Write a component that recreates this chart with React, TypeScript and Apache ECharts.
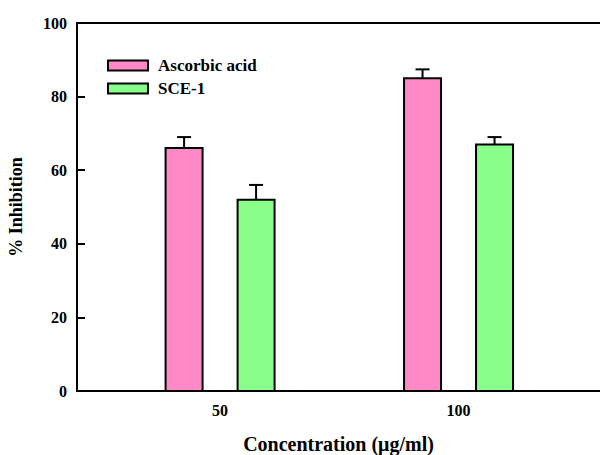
import React, { useEffect, useRef } from "react";
import * as echarts from "echarts";

const concentrations = [50, 100];
const seriesNames = ["Ascorbic acid", "SCE-1"];
const ascorbicValues = [66, 85];
const ascorbicErrors = [3, 2.4];
const sceValues = [52, 67];
const sceErrors = [4, 2];
const yTicks = [0, 20, 40, 60, 80, 100];
const colors = ["#ff88c6", "#88ff88"];

const FONT = "Liberation Serif";

function makeRender(offset: number, barW: number) {
  return (params: any, api: any) => {
    const x = api.value(0);
    const y = api.value(1);
    const e = api.value(2);
    const top = api.coord([x, y]);
    const base = api.coord([x, 0]);
    const errTop = api.coord([x, y + e]);
    const cx = top[0] + offset;
    const color = api.visual("color");
    return {
      type: "group",
      children: [
        {
          type: "line",
          shape: { x1: cx, y1: top[1], x2: cx, y2: errTop[1] },
          style: { stroke: "#000", lineWidth: 2 },
        },
        {
          type: "line",
          shape: { x1: cx - 7, y1: errTop[1], x2: cx + 7, y2: errTop[1] },
          style: { stroke: "#000", lineWidth: 2 },
        },
        {
          type: "rect",
          shape: { x: cx - barW / 2, y: top[1], width: barW, height: base[1] - top[1] },
          style: { fill: color, stroke: "#000", lineWidth: 2 },
        },
      ],
    };
  };
}

export default function App() {
  const ref = useRef<HTMLDivElement>(null);
  useEffect(() => {
    document.body.style.margin = "0";
    if (!ref.current) return;
    const chart = echarts.init(ref.current, null, { renderer: "svg" });
    const labelStyle = { color: "#000", fontFamily: FONT, fontWeight: "bold" as const, fontSize: 16 };
    chart.setOption({
      animation: false,
      backgroundColor: "#fff",
      textStyle: { fontFamily: FONT },
      grid: { left: 77, right: 0, top: 23, bottom: 64, containLabel: false, outerBoundsMode: "none" },
      legend: {
        orient: "vertical",
        left: 102,
        top: 52,
        itemWidth: 40,
        itemHeight: 10,
        itemGap: 6,
        textStyle: { ...labelStyle, fontSize: 17, lineHeight: 17, padding: [0, 0, 0, 5] },
        data: seriesNames.map((n, i) => ({
          name: n,
          icon: "rect",
          itemStyle: { color: colors[i], borderColor: "#000", borderWidth: 2 },
        })),
      },
      xAxis: [
        {
          type: "value",
          min: 20,
          max: 129.66,
          position: "bottom",
          name: "Concentration (μg/ml)",
          nameLocation: "middle",
          nameGap: 44,
          nameTextStyle: { ...labelStyle, fontSize: 20, lineHeight: 18 },
          axisLine: { show: true, lineStyle: { color: "#000", width: 2 } },
          axisTick: { show: false },
          splitLine: { show: false },
          axisLabel: { ...labelStyle, customValues: concentrations, margin: 11 },
        },
        {
          type: "value",
          min: 20,
          max: 129.66,
          position: "top",
          axisLine: { show: true, lineStyle: { color: "#000", width: 2 } },
          axisTick: { show: false },
          splitLine: { show: false },
          axisLabel: { show: false },
        },
      ],
      yAxis: {
        type: "value",
        min: 0,
        max: 100,
        interval: 20,
        name: "% Inhibition",
        nameLocation: "middle",
        nameGap: 52,
        nameTextStyle: { ...labelStyle, fontSize: 18 },
        axisLine: { show: true, lineStyle: { color: "#000", width: 2 } },
        axisTick: { show: true, inside: true, length: 8, lineStyle: { color: "#000", width: 2 } },
        splitLine: { show: false },
        axisLabel: { ...labelStyle, margin: 10, customValues: yTicks },
      },
      series: [
        {
          name: seriesNames[0],
          type: "custom",
          color: colors[0],
          renderItem: makeRender(-36, 37),
          encode: { x: 0, y: 1 },
          data: concentrations.map((c, i) => [c, ascorbicValues[i], ascorbicErrors[i]]),
        },
        {
          name: seriesNames[1],
          type: "custom",
          color: colors[1],
          renderItem: makeRender(36, 37),
          encode: { x: 0, y: 1 },
          data: concentrations.map((c, i) => [c, sceValues[i], sceErrors[i]]),
        },
      ],
    });
    return () => chart.dispose();
  }, []);
  return <div ref={ref} style={{ width: 600, height: 455, position: "absolute", left: 0, top: 0 }} />;
}
